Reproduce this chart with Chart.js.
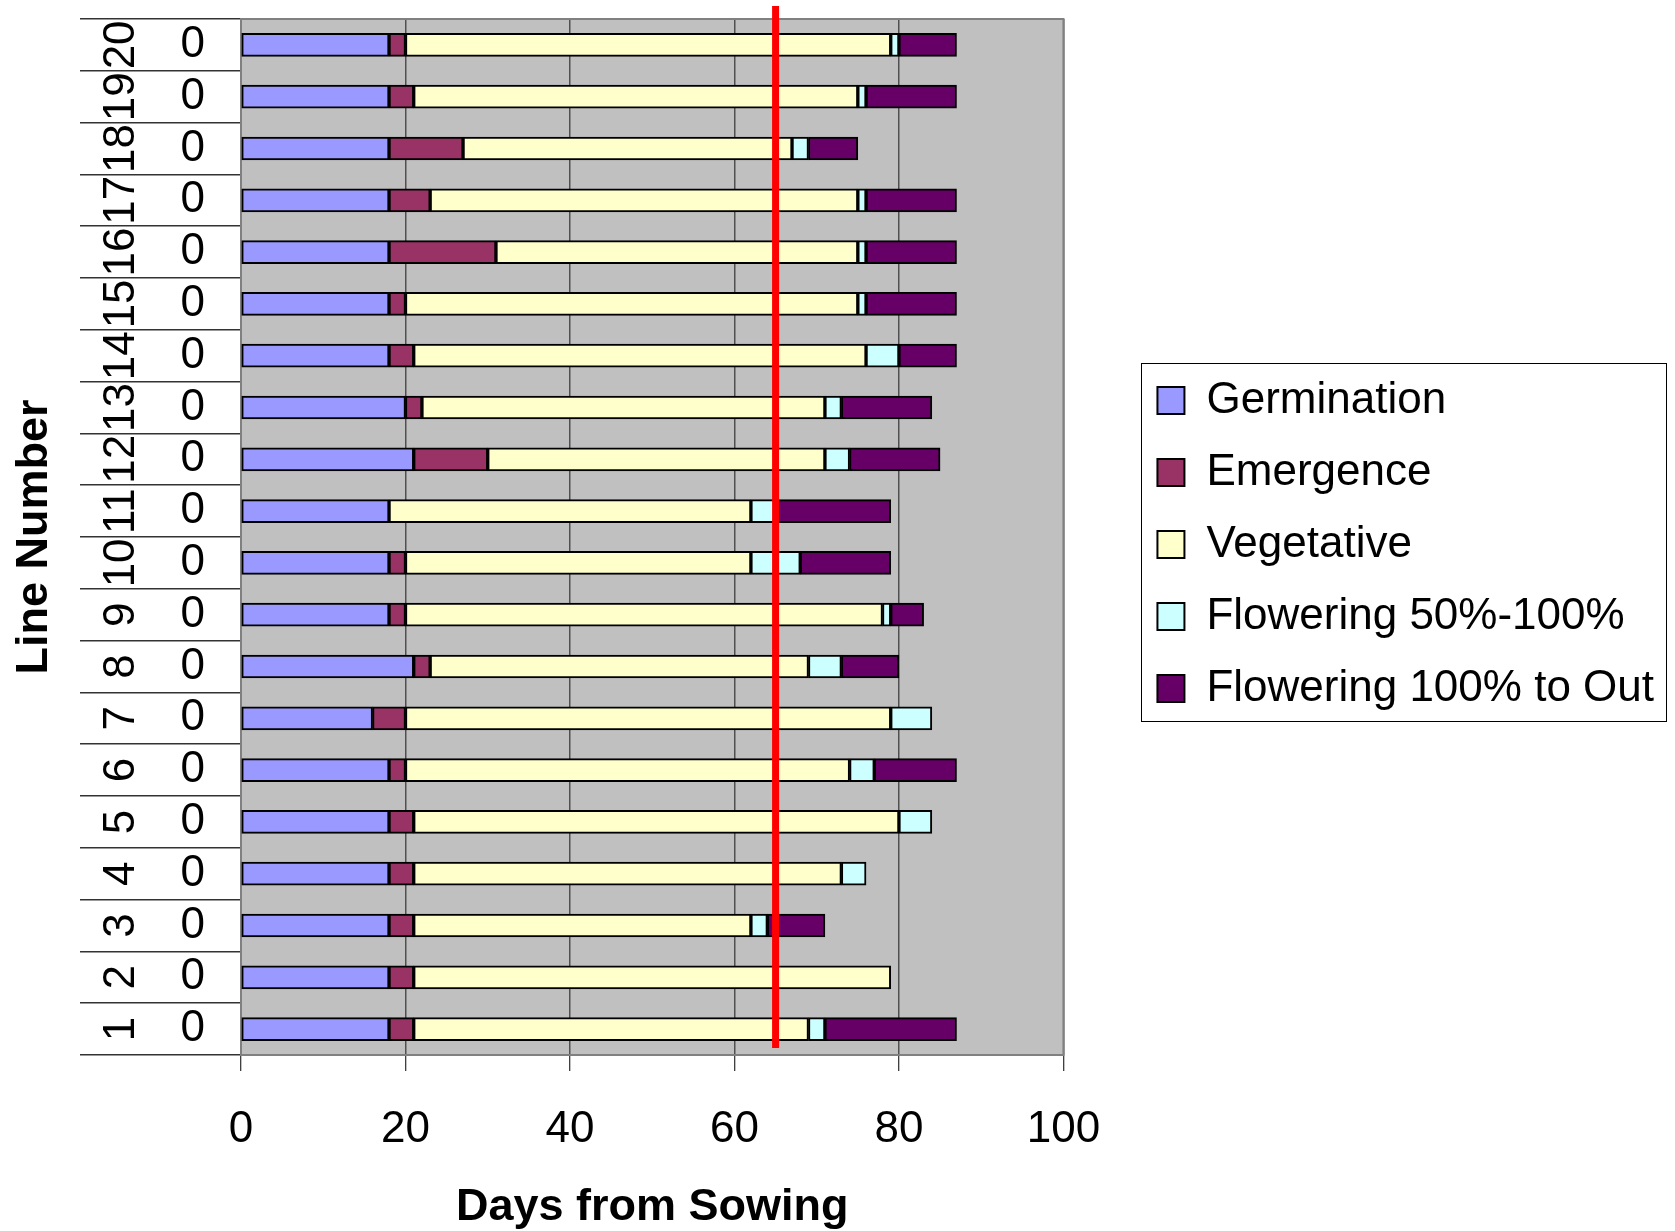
<!DOCTYPE html>
<html>
<head>
<meta charset="utf-8">
<title>Days from Sowing</title>
<script src="https://cdn.jsdelivr.net/npm/chart.js@4.4.1/dist/chart.umd.min.js"></script>
<style>
  html, body { margin: 0; padding: 0; background: #fff; }
  #myChart { display: block; }
</style>
</head>
<body>
<canvas id="myChart" width="1675" height="1231"></canvas>
<script>
// categories (outer level = line number, inner level = 0), bottom row first
const lineNumbers = ['1','2','3','4','5','6','7','8','9','10','11','12','13','14','15','16','17','18','19','20'];
const subLabels = ['0','0','0','0','0','0','0','0','0','0','0','0','0','0','0','0','0','0','0','0'];

// days spent in each stage, one value per line
const germination  = [18,18,18,18,18,18,16,21,18,18,18,21,20,18,18,18,18,18,18,18];
const emergence    = [3,3,3,3,3,2,4,2,2,2,0,9,2,3,2,13,5,9,3,2];
const vegetative   = [48,58,41,52,59,54,59,46,58,42,44,41,49,55,55,44,52,40,54,59];
const flowering50  = [2,0,2,3,4,3,5,4,1,6,3,3,2,4,1,1,1,2,1,1];
const flowering100 = [16,0,7,0,0,10,0,7,4,11,14,11,11,7,11,11,11,6,11,7];

const xTicks = [0,20,40,60,80,100];
const cutoffDay = 65;

const font = "'Liberation Sans', Arial, sans-serif";
Chart.defaults.font.family = font;
Chart.defaults.color = '#000';

// grey plot area with a grey frame
const plotArea = {
    id: 'plotArea',
    beforeDraw(chart) {
        const {ctx, chartArea} = chart;
        ctx.save();
        ctx.fillStyle = '#c0c0c0';
        ctx.fillRect(chartArea.left, chartArea.top, chartArea.width, chartArea.height);
        ctx.restore();
    },
    beforeDatasetsDraw(chart) {
        const {ctx, chartArea} = chart;
        ctx.save();
        ctx.strokeStyle = '#808080';
        ctx.lineWidth = 2;
        ctx.strokeRect(chartArea.left, chartArea.top, chartArea.width, chartArea.height);
        ctx.restore();
    }
};

// red marker line at the cutoff day
const cutoffLine = {
    id: 'cutoffLine',
    afterDatasetsDraw(chart) {
        const {ctx, chartArea} = chart;
        const x = chart.scales.x.getPixelForValue(cutoffDay);
        ctx.save();
        ctx.strokeStyle = '#ff0000';
        ctx.lineWidth = 7;
        ctx.beginPath();
        ctx.moveTo(x, 6);
        ctx.lineTo(x, chartArea.bottom - 7);
        ctx.stroke();
        ctx.restore();
    }
};

// thin frame round the legend
const legendFrame = {
    id: 'legendFrame',
    afterDraw(chart) {
        const boxes = chart.legend.legendHitBoxes;
        if (!boxes || !boxes.length) return;
        let left = Infinity, right = -Infinity;
        boxes.forEach(b => {
            left = Math.min(left, b.left);
            right = Math.max(right, b.left + b.width);
        });
        const top = boxes[0].top - 16;
        const last = boxes[boxes.length - 1];
        const bottom = last.top + last.height + 10;
        const ctx = chart.ctx;
        ctx.save();
        ctx.strokeStyle = '#000';
        ctx.lineWidth = 1;
        ctx.strokeRect(Math.round(left - 16) + 0.5, Math.round(top) + 0.5, Math.round(right - left + 28), Math.round(bottom - top));
        ctx.restore();
    }
};

const ctx = document.getElementById('myChart').getContext('2d');
const chart = new Chart(ctx, {
    type: 'bar',
    data: {
        labels: lineNumbers,
        datasets: [
            { label: 'Germination', data: germination, backgroundColor: '#9999ff' },
            { label: 'Emergence', data: emergence, backgroundColor: '#993366' },
            { label: 'Vegetative', data: vegetative, backgroundColor: '#ffffcc' },
            { label: 'Flowering 50%-100%', data: flowering50, backgroundColor: '#ccffff' },
            { label: 'Flowering 100% to Out', data: flowering100, backgroundColor: '#660066' }
        ]
    },
    options: {
        responsive: false,
        animation: false,
        indexAxis: 'y',
        layout: { padding: { top: 19, right: 11, left: 0, bottom: 0 } },
        datasets: {
            bar: {
                borderColor: '#000',
                borderWidth: 2,
                borderSkipped: false,
                barThickness: 23
            }
        },
        scales: {
            x: {
                stacked: true,
                min: 0,
                max: 100,
                afterBuildTicks: s => { s.ticks = xTicks.map(v => ({ value: v })); },
                afterFit: s => { s.height = 176; },
                border: { display: false },
                grid: { color: '#505050', lineWidth: 1.5, tickLength: 16, tickColor: '#000', tickWidth: 1 },
                ticks: { font: { size: 44 }, padding: 32, maxRotation: 0 },
                title: { display: true, text: 'Days from Sowing', font: { size: 45, weight: 'bold' }, padding: { top: 0, bottom: -4 } }
            },
            y: {
                stacked: true,
                reverse: true,
                offset: true,
                weight: 0,
                afterFit: s => { s.width = 75; },
                border: { display: false },
                grid: { offset: true, drawOnChartArea: false, tickLength: 75, color: '#333', lineWidth: 1.5 },
                ticks: {
                    autoSkip: false,
                    font: { size: 44 },
                    crossAlign: 'center',
                    padding: -39,
                    callback: (value, index) => subLabels[index]
                }
            },
            yLine: {
                type: 'category',
                axis: 'y',
                position: 'left',
                labels: lineNumbers,
                reverse: true,
                offset: true,
                weight: 10,
                afterFit: s => { s.width = 166; },
                border: { display: false },
                grid: { offset: true, drawOnChartArea: false, tickLength: 86, color: '#333', lineWidth: 1.5 },
                ticks: {
                    autoSkip: false,
                    font: { size: 44 },
                    minRotation: 90,
                    maxRotation: 90,
                    crossAlign: 'center',
                    padding: -66
                },
                title: { display: true, text: 'Line Number', font: { size: 45, weight: 'bold' }, padding: { top: 8, bottom: 0 } }
            },
            gap: {
                type: 'linear',
                axis: 'y',
                position: 'right',
                weight: 0,
                afterFit: s => { s.width = 66; },
                border: { display: false },
                grid: { display: false },
                ticks: { display: false }
            }
        },
        plugins: {
            legend: {
                position: 'right',
                fullSize: false,
                maxWidth: 620,
                // empty title, only used to nudge the items down a little
                title: { display: true, text: '', font: { size: 1 }, padding: { top: 7, bottom: 7 } },
                labels: {
                    font: { size: 44 },
                    color: '#000',
                    boxWidth: 27,
                    boxHeight: 27,
                    padding: 28
                }
            },
            tooltip: { enabled: false }
        }
    },
    plugins: [plotArea, cutoffLine, legendFrame]
});
</script>
</body>
</html>
